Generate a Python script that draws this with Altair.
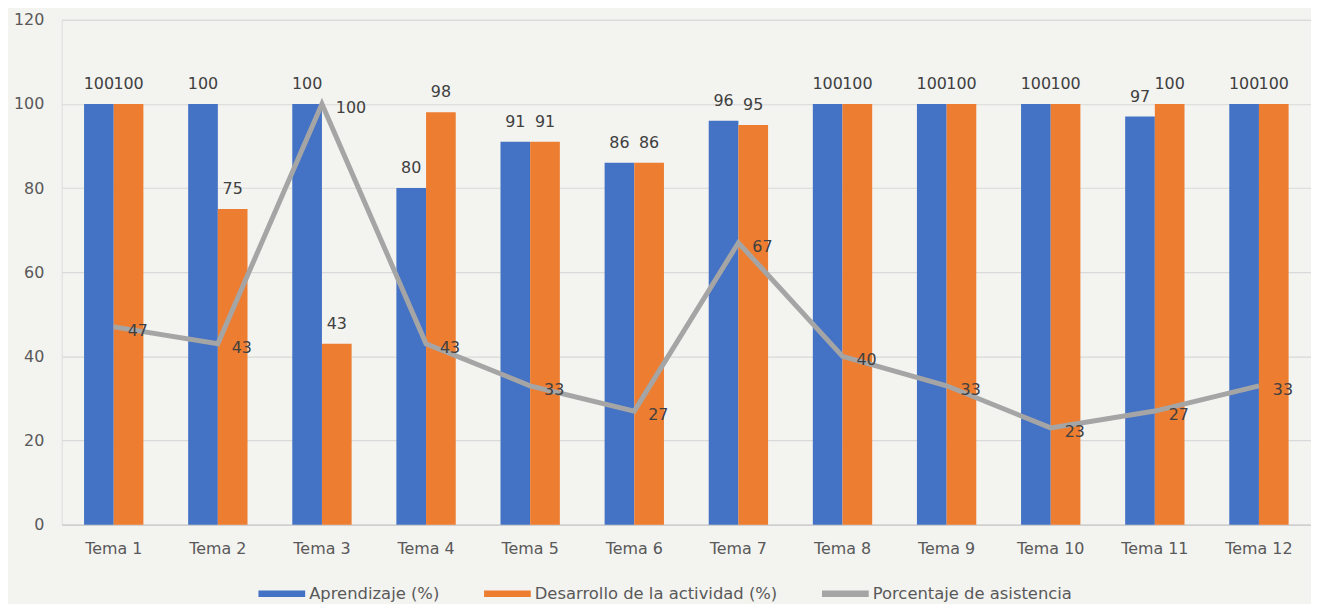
import altair as alt
import pandas as pd

temas = ["Tema 1", "Tema 2", "Tema 3", "Tema 4", "Tema 5", "Tema 6",
         "Tema 7", "Tema 8", "Tema 9", "Tema 10", "Tema 11", "Tema 12"]
aprendizaje = [100, 100, 100, 80, 91, 86, 96, 100, 100, 100, 97, 100]
desarrollo = [100, 75, 43, 98, 91, 86, 95, 100, 100, 100, 100, 100]
asistencia = [47, 43, 100, 43, 33, 27, 67, 40, 33, 23, 27, 33]
series = ["Aprendizaje (%)", "Desarrollo de la actividad (%)", "Porcentaje de asistencia"]
colors = ["#4472C4", "#ED7D31", "#A5A5A5"]
y_ticks = [0, 20, 40, 60, 80, 100, 120]

bars_df = pd.DataFrame({
    "tema": temas * 2,
    "serie": [series[0]] * len(temas) + [series[1]] * len(temas),
    "valor": aprendizaje + desarrollo,
})
line_df = pd.DataFrame({"tema": temas, "valor": asistencia, "serie": [series[2]] * len(temas)})

FONT = "DejaVu Sans"
TXT = "#404040"

x_enc = alt.X("tema:N", sort=temas, title=None,
              scale=alt.Scale(paddingInner=0.43, paddingOuter=0.215),
              axis=alt.Axis(labelAngle=0, labelFontSize=16, labelColor="#595959",
                            labelPadding=16, ticks=False, domainColor="#cfcfcf",
                            domainWidth=1.5, grid=False))
y_enc = alt.Y("valor:Q", title=None, scale=alt.Scale(domain=[0, 120]),
              axis=alt.Axis(values=y_ticks, domain=False, ticks=False, labelPadding=18,
                            labelFontSize=16, labelColor="#595959",
                            gridColor="#d9d9d9", gridWidth=1.2))
color_enc = alt.Color("serie:N", scale=alt.Scale(domain=series, range=colors),
                      legend=alt.Legend(title=None, orient="none", direction="horizontal",
                                        legendX=198, legendY=554, padding=0,
                                        symbolType="M-1,-0.14L1,-0.14L1,0.14L-1,0.14Z",
                                        symbolSize=2209, symbolStrokeWidth=0,
                                        labelFontSize=16.5, labelColor="#595959",
                                        labelLimit=400, labelOffset=4, columnPadding=44))

bars = alt.Chart(bars_df).mark_bar().encode(
    x=x_enc, y=y_enc,
    xOffset=alt.XOffset("serie:N", sort=series[:2]),
    color=color_enc,
)
bar_text = alt.Chart(bars_df).mark_text(baseline="alphabetic", dy=-15, fontSize=16, color=TXT).encode(
    x=alt.X("tema:N", sort=temas),
    xOffset=alt.XOffset("serie:N", sort=series[:2]),
    y="valor:Q",
    text="valor:Q",
)
line = alt.Chart(line_df).mark_line(strokeWidth=5).encode(
    x=alt.X("tema:N", sort=temas),
    y="valor:Q",
    color=alt.Color("serie:N"),
)
line_text = alt.Chart(line_df).mark_text(align="left", baseline="middle", dx=14, dy=4,
                                         fontSize=16, color=TXT).encode(
    x=alt.X("tema:N", sort=temas),
    y="valor:Q",
    text="valor:Q",
)

chart = alt.layer(bars, bar_text, line, line_text).properties(
    width=1257, height=508,
    autosize=alt.AutoSizeParams(type="none"),
    padding={"left": 54, "top": 10, "right": 0, "bottom": 78},
    background="#f3f3f0",
).configure_view(stroke=None).configure(font=FONT)

chart.save("out.html", embed_options={"renderer": "svg", "actions": False})
